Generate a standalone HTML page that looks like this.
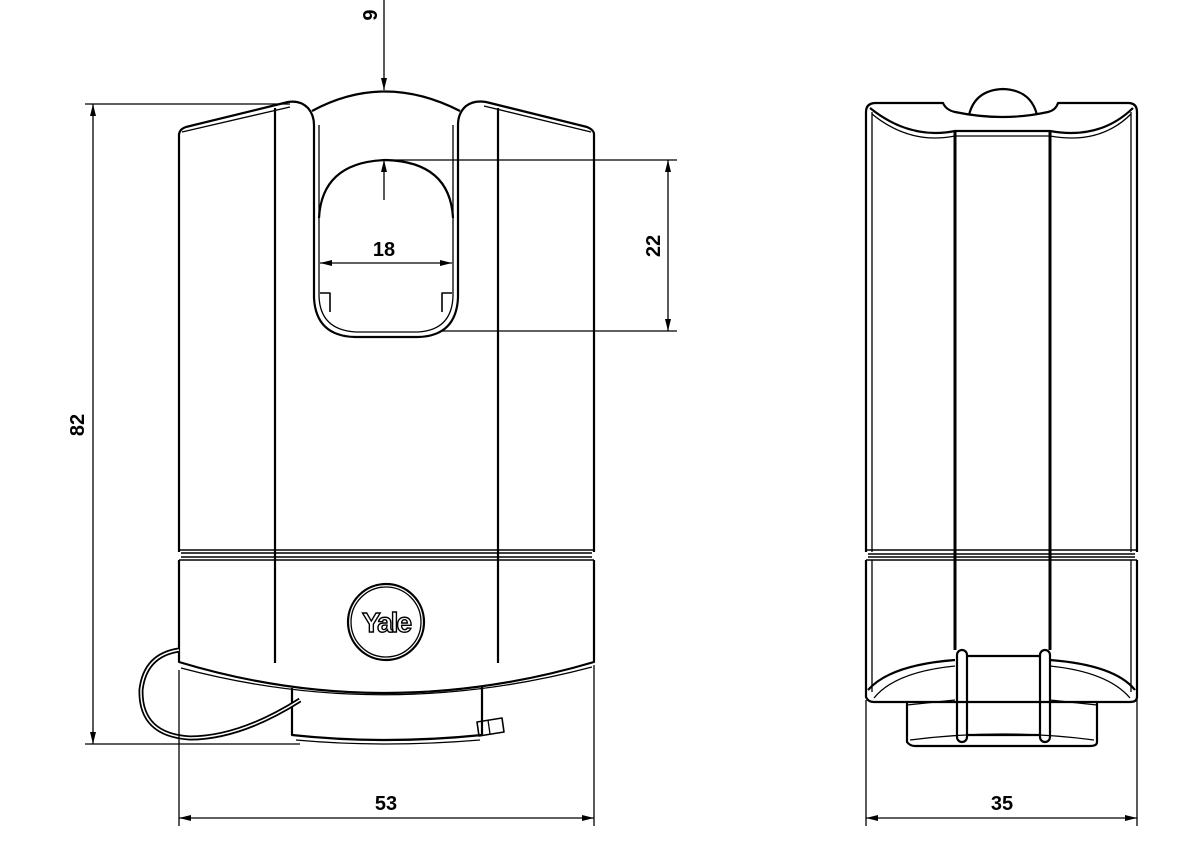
<!DOCTYPE html>
<html><head><meta charset="utf-8"><style>
html,body{margin:0;padding:0;background:#fff;}
svg{display:block;}
text{font-family:"Liberation Sans",sans-serif;font-weight:bold;font-size:20px;fill:#000;}
</style></head><body>
<svg width="1181" height="849" viewBox="0 0 1181 849" xmlns="http://www.w3.org/2000/svg">
<defs>
<marker id="a" viewBox="0 0 12 6" refX="12" refY="3" markerWidth="12" markerHeight="6" orient="auto-start-reverse" markerUnits="userSpaceOnUse"><path d="M0,0 L12,3 L0,6 z" fill="#000"/></marker>
</defs>
<g fill="none" stroke="#000" stroke-width="2.2" stroke-linejoin="round">
<!-- FRONT VIEW body -->
<path d="M179,552 L179,134 Q180,129 186,127 L288,102 Q300,100 308,108 Q314,115 314,125 L314,298 Q316,336 355,337 L418,337 Q456,336 458,298 L458,125 Q458,113 466,106 Q474,100 486,102 L587,127 Q594,130 594,134 L594,552"/>
<path d="M182,132 L290,107 M484,106 L591,132" stroke-width="1.3"/>
<path d="M319,125 L319,296 Q320,330 356,332 L418,332 Q452,330 453,296 L453,125" stroke-width="1.3"/>
<path d="M320,293 L330,293 L330,312 M452,293 L442,293 L442,312" stroke-width="1.6"/>
<path d="M312,111 Q384,72 460,111"/>
<path d="M319,218 Q322,162 386,160 Q450,162 453,218"/>
<line x1="275" y1="108" x2="275" y2="663"/>
<line x1="498" y1="108" x2="498" y2="663"/>
<!-- band -->
<path d="M179,550 L594,550 M179,560 L594,560 M181,553 L592,553 M181,557 L592,557" stroke-width="1.6"/>
<path d="M179,560 L179,662 Q384,724 594,662 L594,560"/>
<path d="M181,668 Q384,722 592,667" stroke-width="1.3"/>
<circle cx="386" cy="622" r="38"/>
<circle cx="386" cy="622" r="35" stroke-width="1.3"/>
<!-- key cylinder -->
<path d="M292,688 L292,735 Q384,745 482,735 L482,686"/>
<path d="M296,740 Q384,748 480,740" stroke-width="1.3"/>
<path d="M477,722 L502,718 L504,732 L479,736 z" stroke-width="1.6"/>
<line x1="488" y1="720" x2="490" y2="734" stroke-width="1.3"/>
<!-- cable -->
<path d="M179,650 Q145,655 141,690 Q140,735 190,738 Q240,738 300,700" stroke-width="5"/>
<path d="M179,650 Q145,655 141,690 Q140,735 190,738 Q240,738 300,700" stroke="#fff" stroke-width="1.5"/>
<!-- SIDE VIEW -->
<path d="M866,552 L866,112 Q866,103 876,103 L943,103 Q946,110 955,112 Q1003,122 1048,112 Q1056,110 1058,103 L1128,103 Q1137,103 1137,112 L1137,552"/>
<path d="M872,552 L872,112 M1131,552 L1131,112" stroke-width="1.3"/>
<path d="M870,108 Q910,140 955,131 L1050,131 Q1100,140 1133,108"/>
<path d="M872,114 Q910,145 955,136 L1050,136 Q1100,145 1131,114" stroke-width="1.3"/>
<path d="M969,115 Q975,90 1003,89 Q1031,90 1037,115"/>
<line x1="955" y1="131" x2="955" y2="650" stroke-width="3"/>
<line x1="1050" y1="131" x2="1050" y2="650" stroke-width="3"/>
<path d="M866,550 L1137,550 M866,560 L1137,560 M868,554 L1135,554 M868,557 L1135,557" stroke-width="1.6"/>
<path d="M866,560 L866,697 Q868,702 874,702 L1130,702 Q1137,702 1137,697 L1137,560"/>
<path d="M872,560 L872,692 M1131,560 L1131,692" stroke-width="1.3"/>
<path d="M868,690 Q890,665 955,660 M1050,660 Q1115,665 1135,690"/>
<path d="M874,698 Q895,672 955,666 M1050,666 Q1108,672 1130,698" stroke-width="1.3"/>
<path d="M907,702 L907,742 Q910,746 915,746 L1090,746 Q1097,746 1097,742 L1097,702"/>
<path d="M910,740 Q1003,728 1094,740" stroke-width="1.3"/>
<rect x="957" y="650" width="10" height="92" rx="5"/>
<rect x="1040" y="650" width="10" height="92" rx="5"/>
<path d="M967,656 L1040,656 M967,735 L1040,735"/>
<path d="M907,705 L955,700 M1050,700 L1097,705" stroke-width="1.3"/>
</g>
<!-- dimensions -->
<g fill="none" stroke="#000" stroke-width="1.3">
<line x1="384" y1="0" x2="384" y2="90" marker-end="url(#a)"/>
<line x1="384" y1="200" x2="384" y2="160" marker-end="url(#a)"/>
<line x1="320" y1="263" x2="452" y2="263" marker-start="url(#a)" marker-end="url(#a)"/>
<line x1="386" y1="160" x2="677" y2="160"/>
<line x1="440" y1="331" x2="677" y2="331"/>
<line x1="668" y1="160" x2="668" y2="331" marker-start="url(#a)" marker-end="url(#a)"/>
<line x1="85" y1="104" x2="290" y2="104"/>
<line x1="85" y1="744" x2="300" y2="744"/>
<line x1="93" y1="104" x2="93" y2="744" marker-start="url(#a)" marker-end="url(#a)"/>
<line x1="179" y1="670" x2="179" y2="826"/>
<line x1="594" y1="665" x2="594" y2="826"/>
<line x1="179" y1="818" x2="594" y2="818" marker-start="url(#a)" marker-end="url(#a)"/>
<line x1="866" y1="700" x2="866" y2="826"/>
<line x1="1137" y1="700" x2="1137" y2="826"/>
<line x1="866" y1="818" x2="1137" y2="818" marker-start="url(#a)" marker-end="url(#a)"/>
</g>
<text x="384" y="256" text-anchor="middle">18</text>
<text x="386" y="810" text-anchor="middle">53</text>
<text x="1002" y="810" text-anchor="middle">35</text>
<text transform="translate(660,246) rotate(-90)" text-anchor="middle">22</text>
<text transform="translate(84,425) rotate(-90)" text-anchor="middle">82</text>
<text transform="translate(377,15) rotate(-90)" text-anchor="middle">9</text>
<text x="386" y="632" text-anchor="middle" style="font-size:28px;fill:#fff;stroke:#000;stroke-width:1.4;letter-spacing:-2px">Yale</text>
</svg>
</body></html>
